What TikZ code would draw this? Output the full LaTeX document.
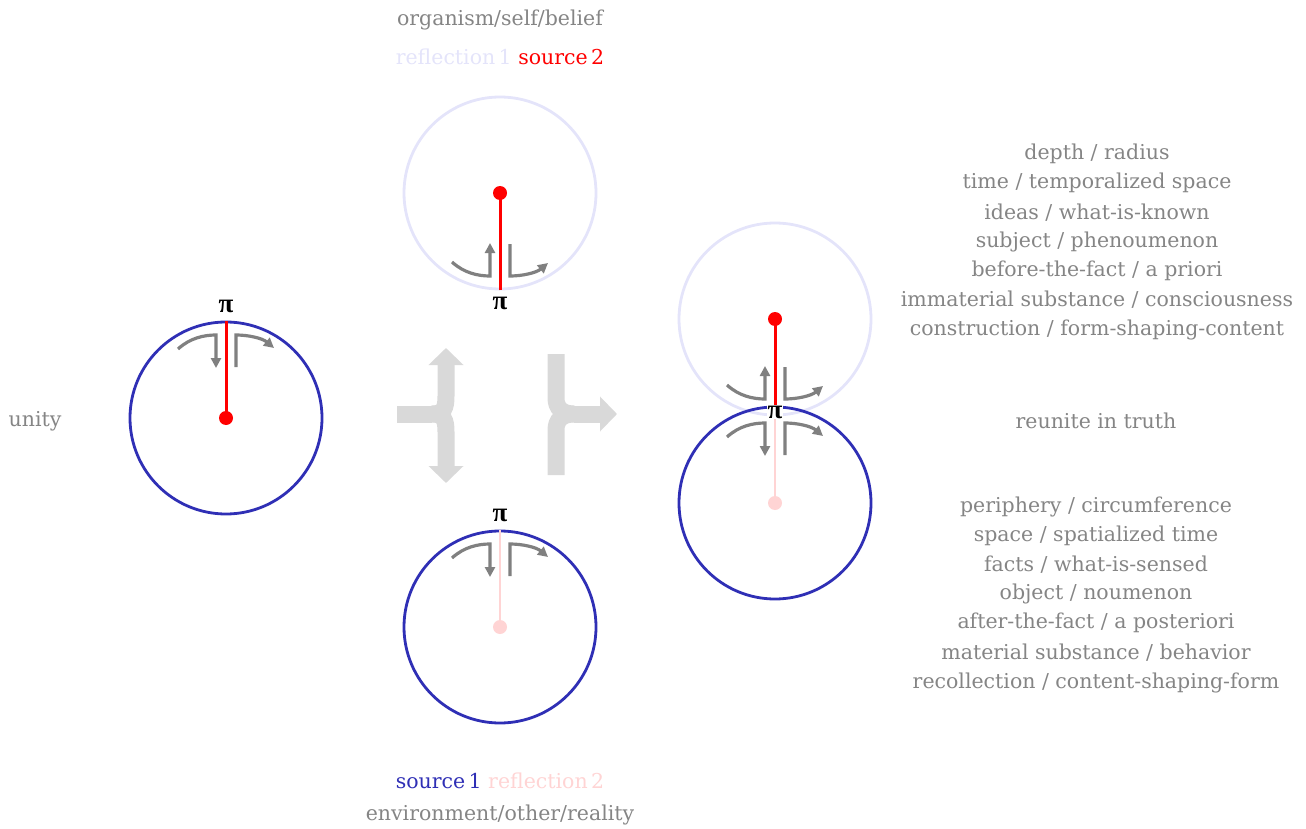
\documentclass[tikz,border=0pt]{standalone}
\usepackage{fontspec}
\setmainfont{DejaVu Serif}
\newfontfamily\pifont{Liberation Serif}
\usetikzlibrary{arrows.meta}
\definecolor{cblue}{HTML}{2F2FB5}
\definecolor{cred}{HTML}{FF0000}
\definecolor{clav}{HTML}{E4E4FA}
\definecolor{cpink}{HTML}{FFD4D4}
\definecolor{ctext}{HTML}{858585}
\definecolor{carrow}{HTML}{808080}
\definecolor{cbig}{HTML}{D9D9D9}
\tikzset{
  ring/.style={circle, minimum size=192pt, inner sep=0pt, line width=2.8pt},
  bluering/.style={ring, draw=cblue},
  lavring/.style={ring, draw=clav},
  dotnode/.style={circle, minimum size=14pt, inner sep=0pt, fill=#1},
  radius line/.style={line width=3pt, draw=#1},
  lbl/.style={text=ctext, font=\fontsize{20.5}{24}\selectfont, inner sep=0pt},
  pinode/.style={font=\pifont\bfseries\fontsize{27}{28}\selectfont, inner sep=1pt},
  spin/.style={draw=carrow, line width=3.2pt, -{Triangle[length=10pt,width=10pt]}},
  big/.style={draw=cbig, line width=17pt},
  bigtip/.style={big, -{Triangle[length=17pt,width=34pt]}},
  spinarrows/.pic={
    \draw[spin] (-48,-69) .. controls (-36,-80) and (-22,-83) .. (-10,-83) -- (-10,-50);
    \draw[spin] (10,-51) -- (10,-83) .. controls (22,-83) and (36,-80) .. (48,-70);
  }
}
\begin{document}
\begin{tikzpicture}[x=1pt,y=-1pt]
\useasboundingbox (0,0) rectangle (1306,829);

% left: unity
\node[bluering] (c1) at (226,418) {};
\node[dotnode=cred] (d1) at (226,418) {};
\draw[radius line=cred] (c1.north) -- (d1.center);
\node[pinode] (p1) at (226,306) {π};
\pic at (c1.center) {spinarrows};
\node[lbl] (unity) at (35,421) {unity};

% top circle
\node[lavring] (c2) at (500,193) {};
\node[dotnode=cred] (d2) at (500,193) {};
\draw[radius line=cred] (c2.south) -- (d2.center);
\node[pinode] (p2) at (500,303) {π};
\pic[yscale=-1] at (c2.center) {spinarrows};
\node[lbl] (org) at (500,20) {organism/self/belief};
\node[lbl] (refl1) at (500,57) {\textcolor{clav}{reflection\,1} \textcolor{cred}{source\,2}};

% bottom circle
\node[bluering] (c3) at (500,627) {};
\node[dotnode=cpink] (d3) at (500,627) {};
\draw[radius line=cpink, line width=2pt] (c3.north) -- (d3.center);
\node[pinode] (p3) at (500,515) {π};
\pic at (c3.center) {spinarrows};
\node[lbl] (src1) at (500,781) {\textcolor{cblue}{source\,1} \textcolor{cpink}{reflection\,2}};
\node[lbl] (env) at (500,815) {environment/other/reality};

% big gray arrows
\coordinate (j1) at (432,414);
\draw[big] (397,414) -- (j1);
\draw[bigtip] (j1) .. controls (444,414) and (446,408) .. (446,396) -- (446,348);
\draw[bigtip] (j1) .. controls (444,414) and (446,420) .. (446,432) -- (446,483);
\coordinate (j2) at (574,414);
\draw[big] (556,354) -- (556,398) .. controls (556,408) and (562,414) .. (j2);
\draw[big] (556,475) -- (556,430) .. controls (556,420) and (562,414) .. (j2);
\draw[bigtip] (j2) -- (617,414);

% right combined
\node[lavring] (c4) at (775,319) {};
\node[bluering] (c5) at (775,503) {};
\node[dotnode=cred] (d4) at (775,319) {};
\node[dotnode=cpink] (d5) at (775,503) {};
\draw[radius line=cpink, line width=2pt] (c5.north) -- (d5.center);
\draw[radius line=cred] (c4.south) -- (d4.center);
\pic[yscale=-1] at (775,316) {spinarrows};
\pic at (775,506) {spinarrows};
\node[pinode, fill=white, inner sep=1pt] (p4) at (775,412) {π};

% right texts
\node[lbl] (t1) at (1097,154) {depth / radius};
\node[lbl] (t2) at (1097,183) {time / temporalized space};
\node[lbl] (t3) at (1097,213) {ideas / what-is-known};
\node[lbl] (t4) at (1097,242) {subject / phenoumenon};
\node[lbl] (t5) at (1097,271) {before-the-fact / a priori};
\node[lbl] (t6) at (1097,300) {immaterial substance / consciousness};
\node[lbl] (t7) at (1097,330) {construction / form-shaping-content};
\node[lbl] (ru) at (1096,421) {reunite in truth};
\node[lbl] (b1) at (1096,507) {periphery / circumference};
\node[lbl] (b2) at (1096,536) {space / spatialized time};
\node[lbl] (b3) at (1096,565) {facts / what-is-sensed};
\node[lbl] (b4) at (1096,594) {object / noumenon};
\node[lbl] (b5) at (1096,623) {after-the-fact / a posteriori};
\node[lbl] (b6) at (1096,653) {material substance / behavior};
\node[lbl] (b7) at (1096,683) {recollection / content-shaping-form};
\end{tikzpicture}
\end{document}
